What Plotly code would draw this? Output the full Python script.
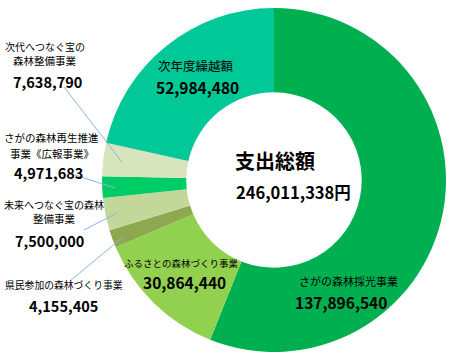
import plotly.graph_objects as go

categories = ["さがの森林採光事業", "ふるさとの森林づくり事業", "県民参加の森林づくり事業",
              "未来へつなぐ宝の森林整備事業", "さがの森林再生推進事業《広報事業》",
              "次代へつなぐ宝の森林整備事業", "次年度繰越額"]
values = [137896540, 30864440, 4155405, 7500000, 4971683, 7638790, 52984480]
colors = ["#00B050", "#92D050", "#8EA84F", "#C4D79B", "#00CC66", "#D8E4BC", "#00C896"]
total_title = "支出総額"

W, H = 450, 362
FONT = "Noto Sans CJK JP"

fig = go.Figure(go.Pie(
    labels=categories, values=values, sort=False, direction="clockwise", rotation=0,
    hole=0.51, marker=dict(colors=colors, line=dict(width=0)), textinfo="none",
    hoverinfo="label+value", domain=dict(x=[102/W, 446/W], y=[9/H, 355/H]),
    showlegend=False,
))

def px(x, y):
    return x / W, 1 - y / H

anns = []
def label(x, y, text, size=11, bold=False, family=FONT):
    ax, ay = px(x, y)
    t = f"<b>{text}</b>" if bold else text
    anns.append(dict(x=ax, y=ay, xref="paper", yref="paper", text=t, showarrow=False,
                     xanchor="center", yanchor="middle",
                     font=dict(family=family, size=size, color="#000000")))

fmt = lambda v: f"{v:,}"

# 次代
label(45, 46, "次代へつなぐ宝の", 10)
label(45, 61, "森林整備事業", 10.5)
label(47, 82, fmt(values[5]), 14.5, True)
# 再生
label(51, 137, "さがの森林再生推進", 10.5)
label(52, 153, "事業《広報事業》", 10.5)
label(48, 172, fmt(values[4]), 14.5, True)
# 未来
label(54, 204, "未来へつなぐ宝の森林", 10)
label(54, 219, "整備事業", 10.5)
label(49, 240, fmt(values[3]), 14.5, True)
# 県民
label(64, 285, "県民参加の森林づくり事業", 9.8)
label(63, 305, fmt(values[2]), 14.5, True)
# ふるさと
label(181, 263, "ふるさとの森林づくり事業", 9.5)
label(184, 282, fmt(values[1]), 15.5, True)
# 次年度
label(196, 66, "次年度繰越額", 12.5)
label(197, 87, fmt(values[6]), 15.5, True)
# さがの
label(348, 281, "さがの森林採光事業", 11)
label(341, 302, fmt(values[0]), 15.5, True)
# center
label(275, 161, total_title, 20, True)
label(293, 192, fmt(sum(values)) + "円", 16.5, True)

shapes = []
def line(x0, y0, x1, y1):
    a0, b0 = px(x0, y0)
    a1, b1 = px(x1, y1)
    shapes.append(dict(type="line", xref="paper", yref="paper", x0=a0, y0=b0, x1=a1, y1=b1,
                       line=dict(color="#8EB4E3", width=1)))

line(64, 87, 122, 162)
line(75, 175, 115, 188)
line(84, 230, 117, 213)
line(70, 281, 123, 237)

fig.update_layout(width=W, height=H, margin=dict(l=0, r=0, t=0, b=0),
                  paper_bgcolor="white", plot_bgcolor="white",
                  annotations=anns, shapes=shapes)
fig.write_html("out.html")
